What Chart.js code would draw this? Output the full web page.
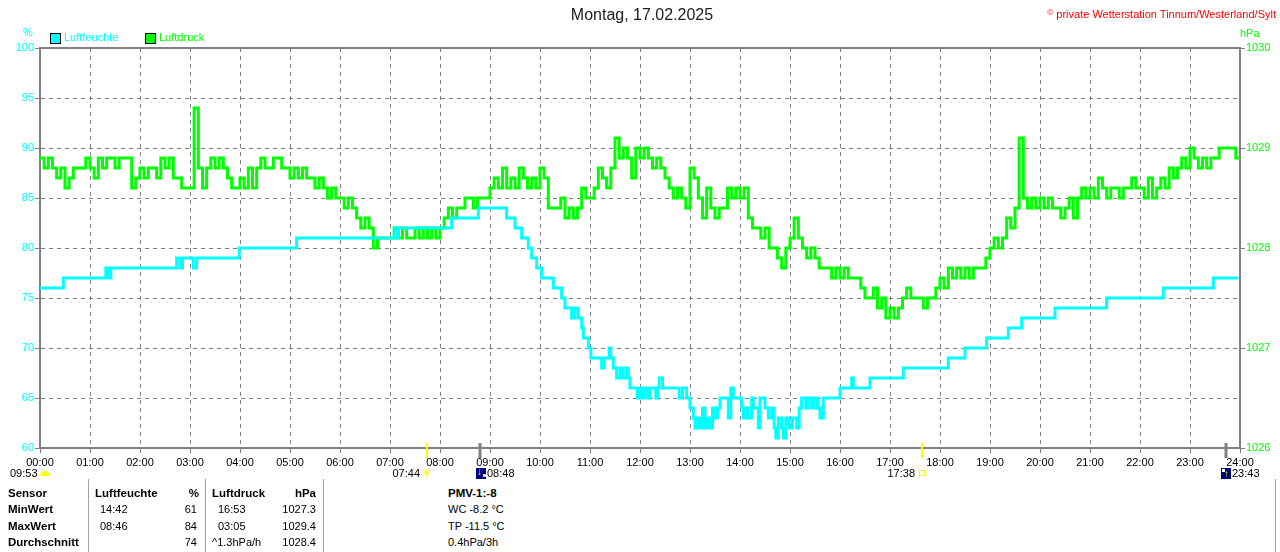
<!DOCTYPE html>
<html><head><meta charset="utf-8">
<script src="https://cdn.jsdelivr.net/npm/chart.js@4.4.1/dist/chart.umd.min.js"></script>
<style>
html,body{margin:0;padding:0;background:#fff;}
#wrap{position:relative;width:1280px;height:552px;overflow:hidden;font-family:"Liberation Sans",Arial,sans-serif;font-size:11px;color:#000;}
#c{position:absolute;left:0;top:0;}
.t{position:absolute;white-space:nowrap;line-height:13px;}
.b{font-weight:bold;font-size:11.5px;}
.r{text-align:right;}
.sep{position:absolute;top:479px;width:1px;height:73px;background:#a0a0a0;}
.box{position:absolute;width:9px;height:9px;border:1px solid #000;}
</style></head>
<body>
<div id="wrap">
<canvas id="c" width="1280" height="480"></canvas>

<div class="t" style="left:442px;width:400px;top:6px;text-align:center;font-size:16px;line-height:18px;color:#202020;">Montag, 17.02.2025</div>
<div class="t" style="right:4px;top:6px;color:#ff0000;"><span style="font-size:8px;vertical-align:3px;">©</span> private Wetterstation Tinnum/Westerland/Sylt</div>

<div class="t" style="left:23px;top:26px;color:#00ffff;">%</div>
<div class="t" style="left:1240px;top:27px;color:#00ff00;">hPa</div>

<div class="box" style="left:50px;top:33px;background:#00ffff;"></div>
<div class="t" style="left:64px;top:31px;color:#00ffff;">Luftfeuchte</div>
<div class="box" style="left:145px;top:33px;background:#00ff00;"></div>
<div class="t" style="left:159px;top:31px;color:#00ff00;">Luftdruck</div>

<!-- astro row -->
<div class="t" style="left:10px;top:467px;">09:53</div>
<div style="position:absolute;left:40px;top:471px;width:10px;height:5px;background:#ffff00;border-radius:5px 5px 0 0;"></div>
<div class="t r" style="left:380px;width:40px;top:467px;">07:44</div>
<div class="t" style="left:421px;top:465px;color:#ffff00;font-family:'DejaVu Sans',sans-serif;font-size:12px;line-height:16px;">☀</div>
<div style="position:absolute;left:476px;top:468px;width:10px;height:11px;background:#000080;overflow:hidden;">
  <div style="position:absolute;left:7px;top:6px;width:3px;height:3px;background:#d0d8ff;"></div>
  <div style="position:absolute;left:1px;top:-2px;color:#ffff00;font-weight:bold;font-size:10px;line-height:12px;">↓</div>
</div>
<div class="t" style="left:487px;top:467px;">08:48</div>
<div class="t r" style="left:875px;width:40px;top:467px;">17:38</div>
<div style="position:absolute;left:919px;top:470px;width:4px;height:4px;border:1px solid #ffff00;"></div>
<div style="position:absolute;left:1221px;top:468px;width:10px;height:11px;background:#000080;overflow:hidden;">
  <div style="position:absolute;left:1px;top:1px;width:3px;height:3px;background:#ffffff;"></div>
  <div style="position:absolute;left:3px;top:0px;color:#ffff00;font-weight:bold;font-size:10px;line-height:12px;">↑</div>
</div>
<div class="t" style="left:1232px;top:467px;">23:43</div>

<!-- table -->
<div class="sep" style="left:88px;"></div>
<div class="sep" style="left:205px;"></div>
<div class="sep" style="left:323px;"></div>
<div class="sep" style="left:1275px;"></div>

<div class="t b" style="left:8px;top:487px;">Sensor</div>
<div class="t b" style="left:8px;top:503px;">MinWert</div>
<div class="t b" style="left:8px;top:520px;">MaxWert</div>
<div class="t b" style="left:8px;top:536px;">Durchschnitt</div>

<div class="t b" style="left:95px;top:487px;">Luftfeuchte</div>
<div class="t b r" style="left:160px;width:39px;top:487px;">%</div>
<div class="t" style="left:100px;top:503px;">14:42</div>
<div class="t r" style="left:160px;width:37px;top:503px;">61</div>
<div class="t" style="left:100px;top:520px;">08:46</div>
<div class="t r" style="left:160px;width:37px;top:520px;">84</div>
<div class="t r" style="left:160px;width:37px;top:536px;">74</div>

<div class="t b" style="left:212px;top:487px;">Luftdruck</div>
<div class="t b r" style="left:270px;width:46px;top:487px;">hPa</div>
<div class="t" style="left:218px;top:503px;">16:53</div>
<div class="t r" style="left:270px;width:46px;top:503px;">1027.3</div>
<div class="t" style="left:218px;top:520px;">03:05</div>
<div class="t r" style="left:270px;width:46px;top:520px;">1029.4</div>
<div class="t" style="left:212px;top:536px;">^1.3hPa/h</div>
<div class="t r" style="left:270px;width:46px;top:536px;">1028.4</div>

<div class="t b" style="left:448px;top:487px;">PMV-1:-8</div>
<div class="t" style="left:448px;top:503px;">WC -8.2 °C</div>
<div class="t" style="left:448px;top:520px;">TP -11.5 °C</div>
<div class="t" style="left:448px;top:536px;">0.4hPa/3h</div>
</div>

<script>
// Humidity (%) change points: minutes since midnight and value
const humTimes = [0,28,79,82,85,164,168,171,184,188,239,308,426,428,430,494,526,560,570,578,586,590,596,602,616,626,630,638,642,646,650,652,658,661,674,677,683,685,688,692,696,700,704,706,708,717,719,722,725,729,732,739,741,743,747,767,771,776,780,784,786,789,792,795,798,801,804,807,810,813,816,826,829,832,842,844,847,850,854,856,862,864,870,874,878,881,883,886,890,892,895,899,903,908,911,914,919,922,926,929,933,936,940,960,974,976,996,1036,1090,1110,1136,1162,1178,1218,1280,1348,1408,1438];
const humValues = [76,77,78,77,78,79,78,79,78,79,80,81,82,81,82,83,84,83,82,81,80,79,78,77,76,75,74,73,74,73,72,71,70,69,68,69,70,69,68,67,68,67,68,67,66,65,66,65,66,65,66,65,66,67,66,65,66,65,64,63,62,63,62,64,62,63,62,64,63,64,65,63,66,65,64,63,64,63,65,64,62,65,64,63,64,62,61,63,62,61,63,62,63,62,64,65,64,65,64,65,64,63,65,66,67,66,67,68,69,70,71,72,73,74,75,76,77,77];

// Air pressure (hPa), one reading every 5 minutes from 00:00 to 24:00
const pressStepMinutes = 5;
const pressValues = [
1028.9,1028.8,1028.9,1028.8,1028.7,1028.8,1028.6,1028.7,1028.8,1028.8,1028.8,1028.9,
1028.8,1028.7,1028.9,1028.8,1028.9,1028.9,1028.8,1028.9,1028.9,1028.9,1028.6,1028.7,
1028.8,1028.7,1028.8,1028.8,1028.7,1028.9,1028.8,1028.9,1028.7,1028.7,1028.6,1028.6,
1028.6,1029.4,1028.8,1028.6,1028.8,1028.9,1028.8,1028.9,1028.8,1028.7,1028.6,1028.6,
1028.7,1028.6,1028.8,1028.6,1028.8,1028.9,1028.8,1028.8,1028.9,1028.9,1028.8,1028.8,
1028.7,1028.8,1028.7,1028.8,1028.7,1028.7,1028.6,1028.7,1028.6,1028.5,1028.6,1028.5,
1028.5,1028.4,1028.5,1028.4,1028.3,1028.2,1028.3,1028.2,1028.0,1028.1,1028.1,1028.1,
1028.1,1028.2,1028.1,1028.2,1028.1,1028.1,1028.2,1028.1,1028.2,1028.1,1028.2,1028.1,
1028.2,1028.3,1028.4,1028.3,1028.4,1028.4,1028.5,1028.5,1028.4,1028.5,1028.5,1028.5,
1028.6,1028.7,1028.6,1028.8,1028.6,1028.7,1028.6,1028.8,1028.7,1028.6,1028.7,1028.6,
1028.8,1028.7,1028.4,1028.4,1028.4,1028.5,1028.3,1028.4,1028.3,1028.4,1028.6,1028.5,
1028.5,1028.6,1028.8,1028.7,1028.6,1028.8,1029.1,1028.9,1029.0,1028.9,1028.7,1029.0,
1028.9,1029.0,1028.9,1028.8,1028.9,1028.8,1028.7,1028.6,1028.5,1028.6,1028.5,1028.4,
1028.8,1028.7,1028.5,1028.3,1028.6,1028.4,1028.3,1028.4,1028.4,1028.6,1028.5,1028.6,
1028.5,1028.6,1028.3,1028.2,1028.2,1028.1,1028.2,1028.0,1028.0,1027.9,1027.8,1028.0,
1028.1,1028.3,1028.1,1028.0,1027.9,1028.0,1027.9,1027.8,1027.8,1027.8,1027.7,1027.8,
1027.7,1027.8,1027.7,1027.7,1027.7,1027.6,1027.5,1027.5,1027.6,1027.4,1027.5,1027.3,
1027.4,1027.3,1027.4,1027.5,1027.6,1027.5,1027.5,1027.5,1027.4,1027.5,1027.5,1027.6,
1027.7,1027.6,1027.8,1027.7,1027.8,1027.7,1027.8,1027.7,1027.8,1027.8,1027.8,1027.9,
1028.0,1028.1,1028.0,1028.1,1028.3,1028.2,1028.4,1029.1,1028.5,1028.4,1028.5,1028.4,
1028.5,1028.4,1028.5,1028.4,1028.4,1028.3,1028.4,1028.5,1028.3,1028.5,1028.6,1028.5,
1028.6,1028.5,1028.7,1028.6,1028.5,1028.6,1028.6,1028.5,1028.6,1028.6,1028.7,1028.6,
1028.6,1028.5,1028.7,1028.5,1028.6,1028.7,1028.6,1028.8,1028.7,1028.8,1028.9,1028.8,
1029.0,1028.9,1028.8,1028.9,1028.8,1028.9,1028.9,1029.0,1029.0,1029.0,1029.0,1028.9,
1028.9];

// Axis ticks
const humTicks = {min: 60, max: 100, step: 5};
const pressTicks = {min: 1026, max: 1030, step: 1};
const hourTicks = {min: 0, max: 1440, step: 60};

// Sun / moon event markers on the time axis (minutes) and their colours
const astroTimes = [464, 528, 1058, 1423];
const astroColors = ['#ffff00', '#808080', '#ffff00', '#808080'];
const astroWidths = [2, 3, 2, 3];

const pad2 = n => String(n).padStart(2, '0');

Chart.defaults.font.family = '"Liberation Sans", Arial, sans-serif';
Chart.defaults.font.size = 11;

const frame = {
  id: 'frame',
  afterDraw(chart) {
    const {ctx, chartArea: a, scales} = chart;
    ctx.save();
    ctx.strokeStyle = '#808080';
    ctx.lineWidth = 2;
    ctx.setLineDash([]);
    ctx.beginPath();
    ctx.moveTo(a.left - 1, a.top);
    ctx.lineTo(a.right + 1, a.top);
    ctx.stroke();
    astroTimes.forEach((t, i) => {
      const x = Math.round(scales.x.getPixelForValue(t));
      ctx.strokeStyle = astroColors[i];
      ctx.lineWidth = astroWidths[i];
      ctx.beginPath();
      ctx.moveTo(x, a.bottom - 5);
      ctx.lineTo(x, a.bottom + 10);
      ctx.stroke();
    });
    ctx.restore();
  }
};

new Chart(document.getElementById('c'), {
  type: 'line',
  data: {
    datasets: [
      {
        label: 'Luftfeuchte',
        data: humTimes.map((t, i) => ({x: t, y: humValues[i]})),
        yAxisID: 'y',
        borderColor: '#00ffff',
        backgroundColor: '#00ffff',
        borderWidth: 3,
        stepped: true,
        pointRadius: 0,
        fill: false
      },
      {
        label: 'Luftdruck',
        data: pressValues.map((v, i) => ({x: i * pressStepMinutes, y: v})),
        yAxisID: 'y1',
        borderColor: '#00ff00',
        backgroundColor: '#00ff00',
        borderWidth: 3,
        stepped: true,
        pointRadius: 0,
        fill: false
      }
    ]
  },
  options: {
    responsive: false,
    animation: false,
    devicePixelRatio: 1,
    layout: {padding: {top: 48, left: 0, right: 0, bottom: 0}},
    plugins: {legend: {display: false}, title: {display: false}, tooltip: {enabled: false}},
    scales: {
      x: {
        type: 'linear',
        position: 'bottom',
        min: hourTicks.min,
        max: hourTicks.max,
        afterFit(s) { s.height = 32; },
        ticks: {
          stepSize: hourTicks.step,
          autoSkip: false,
          maxRotation: 0,
          color: '#000',
          padding: 3,
          font: {size: 11},
          callback: v => pad2(v / 60) + ':00'
        },
        grid: {color: '#808080', lineWidth: 1, borderDash: [4, 4], tickLength: 5},
        border: {display: true, color: '#808080', width: 2, dash: [4, 4]}
      },
      y: {
        position: 'left',
        min: humTicks.min,
        max: humTicks.max,
        afterFit(s) { s.width = 40; },
        ticks: {stepSize: humTicks.step, color: '#00ffff', padding: 1, font: {size: 11}, callback: v => String(v)},
        grid: {color: '#808080', lineWidth: 1, borderDash: [4, 4], tickLength: 5, tickBorderDash: []},
        border: {display: true, color: '#808080', width: 2, dash: [4, 4]}
      },
      y1: {
        position: 'right',
        min: pressTicks.min,
        max: pressTicks.max,
        afterFit(s) { s.width = 40; },
        ticks: {stepSize: pressTicks.step, color: '#00ff00', padding: 1, font: {size: 11}, callback: v => String(v)},
        grid: {drawOnChartArea: false, color: '#808080', tickLength: 5, tickBorderDash: []},
        border: {display: true, color: '#808080', width: 2}
      }
    }
  },
  plugins: [frame]
});
</script>
</body></html>
